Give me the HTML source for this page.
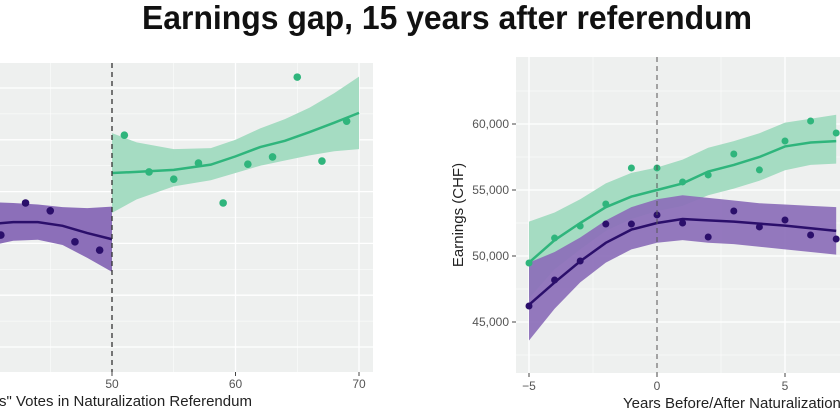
<!DOCTYPE html>
<html><head><meta charset="utf-8"><style>
body{margin:0;background:#fff;}
svg{display:block;font-family:"Liberation Sans",sans-serif;}
</style></head><body>
<svg width="840" height="420" viewBox="0 0 840 420">
<text x="447" y="29" text-anchor="middle" font-size="33" font-weight="bold" fill="#111" textLength="610" lengthAdjust="spacingAndGlyphs">Earnings gap,  15 years after referendum</text>
<g id="left"></g>
<g id="right"></g>
</svg>
<script>
// ---- Left panel data (x: vote share %, y: grid units) ----
const lPurpleX=[41,43,45,47,49];
const lPurpleY=[2.16,2.78,2.63,2.03,1.87];
const lGreenX=[51,53,55,57,59,61,63,65,67,69];
const lGreenY=[4.09,3.38,3.24,3.55,2.78,3.53,3.67,5.21,3.59,4.36];
const lPurpleFitX=[40,42,44,46,48,50];
const lPurpleFit=[2.37,2.41,2.41,2.34,2.20,2.08];
const lPurpleLo=[1.95,2.05,2.07,1.97,1.72,1.45];
const lPurpleHi=[2.80,2.78,2.75,2.70,2.68,2.71];
const lGreenFitX=[50,52,55,58,60,62,64,66,68,70];
const lGreenFit=[3.36,3.38,3.42,3.52,3.68,3.86,3.98,4.15,4.33,4.52];
const lGreenLo=[2.59,2.85,3.10,3.22,3.36,3.50,3.60,3.70,3.78,3.82];
const lGreenHi=[4.13,3.95,3.82,3.84,4.00,4.22,4.40,4.62,4.90,5.22];
const lXTicks=[50,60,70];
// ---- Right panel data (x: years, y: CHF) ----
const rYears=[-5,-4,-3,-2,-1,0,1,2,3,4,5,6,7];
const rGreen=[49470,51360,52270,53940,56670,56670,55610,56140,57730,56520,58710,60230,59320];
const rPurple=[46210,48180,49620,52420,52420,53110,52500,51440,53410,52200,52730,51590,51290];
const rGreenFit=[49500,51200,52500,53700,54500,55000,55500,56400,56900,57500,58300,58600,58700];
const rGreenLo=[46800,49000,50500,51900,52800,53400,53800,54600,55100,55700,56500,56900,57000];
const rGreenHi=[52600,53300,54300,55500,56300,56700,57300,58200,58700,59300,60100,60400,60700];
const rPurpleFit=[46300,48000,49600,51000,52000,52500,52800,52700,52600,52450,52300,52100,51900];
const rPurpleLo=[43600,46000,48000,49500,50500,51000,51200,51000,50900,50700,50500,50300,50100];
const rPurpleHi=[49500,50300,51400,52700,53700,54300,54600,54400,54200,54000,53900,53800,53700];
const rXTicks=[-5,0,5];
const rYTicks=[45000,50000,55000,60000];
const rYLabels=["45,000","50,000","55,000","60,000"];

const NS="http://www.w3.org/2000/svg";
function mk(parent,tag,attrs){const e=document.createElementNS(NS,tag);for(const k in attrs)e.setAttribute(k,attrs[k]);parent.appendChild(e);return e;}
function bandPath(xs,lo,hi,sx,sy){let d="M"+xs.map((x,i)=>sx(x)+","+sy(hi[i])).join("L");for(let i=xs.length-1;i>=0;i--)d+="L"+sx(xs[i])+","+sy(lo[i]);return d+"Z";}
function linePath(xs,ys,sx,sy){return "M"+xs.map((x,i)=>sx(x)+","+sy(ys[i])).join("L");}

const GREEN="#2fb57c",GBAND="#a5dcc2",PURPLE="#2b0f6b",PBAND="#8c6fb9",BG="#eef0ef";

// ---- Left ----
(function(){
const g=document.getElementById('left');
const sx=v=>112+(v-50)*12.35, sy=v=>347-v*51.8;
let bg=mk(g,'rect',{x:0,y:63,width:373,height:309,fill:BG});

for(let v=0;v<=5;v++){let l=mk(g,'line',{x1:0,x2:373,y1:sy(v),y2:sy(v),stroke:'#fff','stroke-width':1.3});
}
for(let v=-0.5;v<=5.5;v+=1){mk(g,'line',{x1:0,x2:373,y1:sy(v),y2:sy(v),stroke:'#fff','stroke-width':0.5});}
[40,60,70].forEach(v=>{let l=mk(g,'line',{x1:sx(v),x2:sx(v),y1:63,y2:372,stroke:'#fff','stroke-width':1.3});
});
[45,55,65].forEach(v=>mk(g,'line',{x1:sx(v),x2:sx(v),y1:63,y2:372,stroke:'#fff','stroke-width':0.5}));
let pb=mk(g,'path',{d:bandPath(lPurpleFitX,lPurpleLo,lPurpleHi,sx,sy),fill:PBAND});

let gb=mk(g,'path',{d:bandPath(lGreenFitX,lGreenLo,lGreenHi,sx,sy),fill:GBAND});

let pl=mk(g,'path',{d:linePath(lPurpleFitX,lPurpleFit,sx,sy),fill:'none',stroke:PURPLE,'stroke-width':2.5});

let gl=mk(g,'path',{d:linePath(lGreenFitX,lGreenFit,sx,sy),fill:'none',stroke:GREEN,'stroke-width':2.5});

lPurpleX.forEach((x,i)=>{let c=mk(g,'circle',{cx:sx(x),cy:sy(lPurpleY[i]),r:3.8,fill:PURPLE});
});
lGreenX.forEach((x,i)=>{let c=mk(g,'circle',{cx:sx(x),cy:sy(lGreenY[i]),r:3.8,fill:GREEN});
});
let cut=mk(g,'line',{x1:sx(50),x2:sx(50),y1:63,y2:372,stroke:'#333','stroke-width':1.3,'stroke-dasharray':'5,4'});

lXTicks.forEach(v=>{mk(g,'line',{x1:sx(v),x2:sx(v),y1:372,y2:376,stroke:'#444'});
let t=mk(g,'text',{x:sx(v),y:388,'text-anchor':'middle','font-size':12,fill:'#555'});t.textContent=v;
});
let xt=mk(g,'text',{x:-1,y:406,'font-size':15,fill:'#222'});xt.textContent='s" Votes in Naturalization Referendum';

})();

// ---- Right ----
(function(){
const g=document.getElementById('right');
const sx=v=>657+v*25.6, sy=v=>256-(v-50000)*0.0132;
let bg=mk(g,'rect',{x:516,y:57,width:330,height:316,fill:BG});

rYTicks.forEach(v=>{let l=mk(g,'line',{x1:516,x2:840,y1:sy(v),y2:sy(v),stroke:'#fff','stroke-width':1.3});
});
[42500,47500,52500,57500,62500].forEach(v=>mk(g,'line',{x1:516,x2:840,y1:sy(v),y2:sy(v),stroke:'#fff','stroke-width':0.5}));
[-5,5].forEach(v=>{let l=mk(g,'line',{x1:sx(v),x2:sx(v),y1:57,y2:373,stroke:'#fff','stroke-width':1.3});
});
[-2.5,2.5].forEach(v=>mk(g,'line',{x1:sx(v),x2:sx(v),y1:57,y2:373,stroke:'#fff','stroke-width':0.5}));
let gb=mk(g,'path',{d:bandPath(rYears,rGreenLo,rGreenHi,sx,sy),fill:GBAND});

let pb=mk(g,'path',{d:bandPath(rYears,rPurpleLo,rPurpleHi,sx,sy),fill:PBAND,'fill-opacity':0.93});

let gl=mk(g,'path',{d:linePath(rYears,rGreenFit,sx,sy),fill:'none',stroke:GREEN,'stroke-width':2.5});

let pl=mk(g,'path',{d:linePath(rYears,rPurpleFit,sx,sy),fill:'none',stroke:PURPLE,'stroke-width':2.5});

rYears.forEach((x,i)=>{let c=mk(g,'circle',{cx:sx(x),cy:sy(rGreen[i]),r:3.5,fill:GREEN});

let p=mk(g,'circle',{cx:sx(x),cy:sy(rPurple[i]),r:3.5,fill:PURPLE});
});
let cut=mk(g,'line',{x1:sx(0),x2:sx(0),y1:57,y2:373,stroke:'#555','stroke-width':1,'stroke-dasharray':'5,4'});

rXTicks.forEach(v=>{mk(g,'line',{x1:sx(v),x2:sx(v),y1:373,y2:377,stroke:'#444'});
let t=mk(g,'text',{x:sx(v),y:390,'text-anchor':'middle','font-size':12,fill:'#555'});t.textContent=v<0?'\u2212'+(-v):v;
});
rYTicks.forEach((v,i)=>{mk(g,'line',{x1:512,x2:516,y1:sy(v),y2:sy(v),stroke:'#444'});
let t=mk(g,'text',{x:509,y:sy(v)+4,'text-anchor':'end','font-size':12,fill:'#555'});t.textContent=rYLabels[i];
});
let xt=mk(g,'text',{x:623,y:408,'font-size':15,fill:'#222'});xt.textContent='Years Before/After Naturalization';

let yt=mk(g,'text',{x:0,y:0,'font-size':15,fill:'#222','text-anchor':'middle',transform:'translate(463,215) rotate(-90)'});yt.textContent='Earnings (CHF)';

})();
</script>
</body></html>
